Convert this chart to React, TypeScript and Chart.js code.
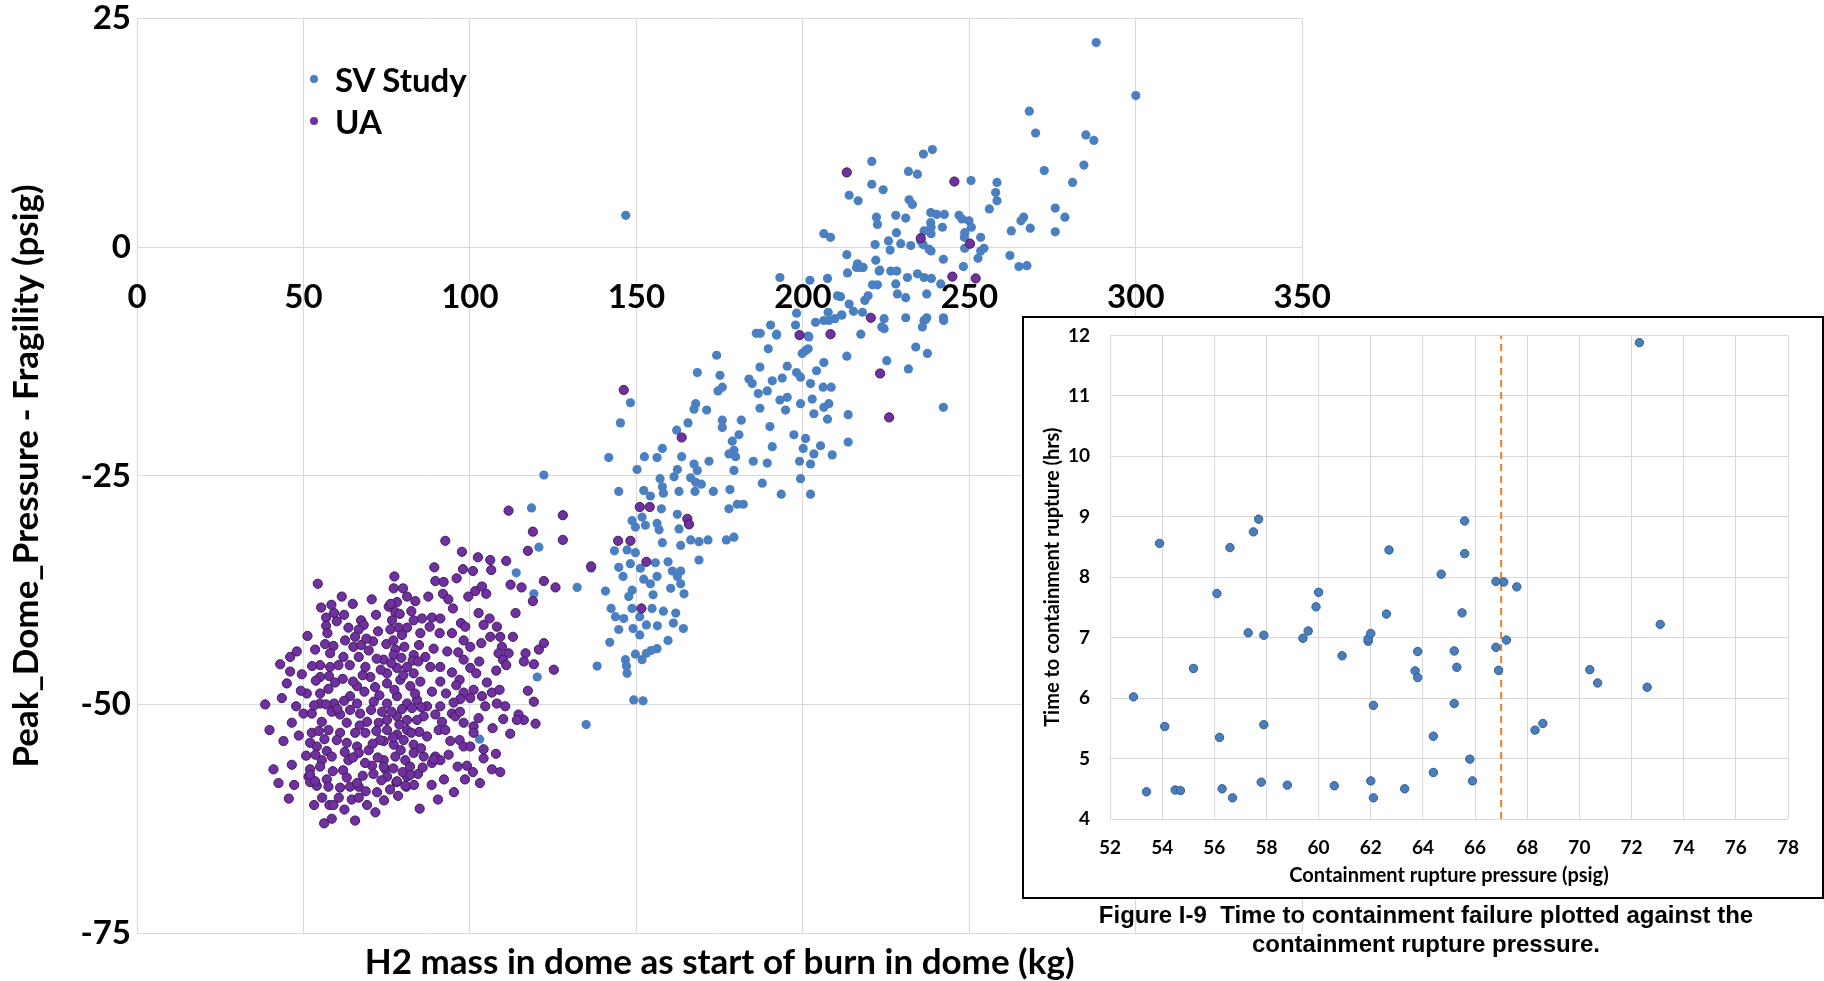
import React, { useEffect, useRef } from 'react';
import { Chart, registerables } from 'chart.js';

Chart.register(...registerables);

// ---- Main chart: H2 mass (kg) vs Peak dome pressure - fragility (psig) ----
const svStudy: [number, number][] = [
  [288.1, 22.4], [300.0, 16.6], [268.0, 14.9], [269.9, 12.5], [285.0, 12.3], [287.4, 11.7], [272.5, 8.4], [284.4, 9.0],
  [281.0, 7.1], [250.5, 7.3], [258.3, 7.1], [257.9, 6.0], [258.3, 5.1], [256.0, 4.2], [275.8, 4.3], [278.7, 3.3],
  [266.3, 3.3], [265.5, 2.9], [268.3, 2.1], [262.6, 1.8], [275.8, 1.7], [246.9, 3.5], [247.8, 3.1], [249.9, 2.9],
  [250.6, 2.2], [241.9, 2.2], [248.6, 1.6], [248.5, 1.1], [253.4, 1.1], [248.6, -0.1], [254.4, -0.1], [253.4, -0.4],
  [252.6, -1.2], [262.2, -0.9], [264.9, -2.1], [267.3, -2.0], [248.2, -2.1], [242.2, -1.3],
  [238.9, 10.7], [236.2, 10.2], [220.7, 9.4], [231.7, 8.3], [234.4, 8.0], [220.7, 6.9], [224.1, 6.3], [213.9, 5.7],
  [216.6, 5.1], [231.9, 5.2], [232.9, 4.7], [206.3, 1.5], [208.3, 1.1], [222.1, 3.3], [222.4, 2.5], [227.9, 3.5],
  [230.9, 3.2], [238.4, 3.8], [240.2, 3.6], [238.4, 2.7], [236.4, 1.8], [228.1, 1.6], [225.7, 0.7], [221.7, 0.3],
  [229.4, 0.4], [232.4, 0.2], [235.4, 0.7], [237.9, -0.2], [213.2, -0.8], [216.4, -1.8], [217.4, -2.2], [213.4, -2.8],
  [221.9, -1.4], [222.9, -2.6], [226.4, -2.6], [228.2, -2.6], [231.4, -3.3], [234.4, -2.9], [236.4, -3.3], [238.6, -3.4],
  [241.4, -4.0], [193.1, -3.3], [202.1, -3.6], [207.4, -3.4], [220.9, -4.1], [222.4, -4.1], [227.9, -4.0], [219.6, -5.3],
  [228.4, -5.1], [230.9, -5.5], [237.2, -5.1], [210.4, -5.3], [213.9, -6.2], [215.2, -7.0], [217.9, -7.1], [224.4, -7.8],
  [224.4, -8.9], [230.9, -7.7], [236.4, -8.0], [237.2, -7.7], [242.2, -7.7], [235.9, -8.7], [207.6, -7.1], [211.7, -7.4],
  [203.8, -8.2], [198.1, -7.2], [197.8, -8.5], [190.3, -8.5], [207.8, -8.0], [201.8, -9.8], [192.1, -9.6], [217.4, -9.5],
  [213.2, -11.9], [233.9, -10.9], [237.4, -11.6], [225.2, -12.4], [231.7, -13.3], [200.8, -11.3], [199.8, -11.6], [206.3, -12.6],
  [204.1, -13.5], [198.1, -13.7], [199.3, -14.2], [195.3, -13.0], [193.8, -14.3], [190.8, -14.6], [202.3, -14.9], [206.1, -15.3],
  [208.5, -15.3], [189.3, -15.7], [193.1, -16.7], [195.3, -16.4], [199.3, -17.1], [202.8, -16.6], [206.3, -17.5], [207.8, -17.1],
  [194.8, -17.8], [203.3, -18.2], [213.6, -18.3], [242.2, -17.5], [207.4, -18.8], [190.1, -19.6], [197.3, -20.5], [200.8, -20.9],
  [213.6, -21.3], [190.8, -21.8], [205.3, -21.7], [200.1, -22.0], [203.3, -22.6], [208.8, -22.7], [189.3, -23.6], [199.0, -23.4],
  [202.3, -23.7], [199.3, -25.3], [187.8, -25.8], [193.5, -27.0], [202.3, -27.0],
  [226.2, -0.3], [216.1, -2.2], [218.1, -2.2], [223.1, -2.5], [218.6, -5.8], [211.3, -5.4], [209.6, -7.8], [211.6, -7.4],
  [206.3, -8.0], [223.7, -8.7], [236.9, -7.9], [242.3, -8.0], [186.0, -9.4], [187.2, -9.4], [192.1, -9.5], [201.6, -9.7],
  [189.6, -11.1], [201.6, -11.1], [238.5, 2.2], [238.5, 1.5], [236.1, 0.3], [238.5, -0.4], [242.5, 3.6], [174.1, -11.8],
  [146.8, 3.5],
  [168.3, -13.7], [175.1, -14.0], [174.5, -15.7], [175.8, -15.3], [183.8, -14.4], [184.8, -14.9], [187.1, -13.1], [186.6, -16.0],
  [148.2, -17.0], [145.2, -19.2], [141.7, -23.0], [167.8, -17.1], [171.1, -17.8], [167.3, -17.7], [175.8, -18.9], [175.8, -19.7],
  [181.5, -18.9], [187.1, -17.6], [165.5, -19.2], [162.1, -20.0], [180.8, -20.5], [178.8, -21.2], [179.3, -22.2], [177.8, -22.6],
  [179.8, -22.9], [171.8, -23.4], [185.1, -23.4], [179.3, -24.4], [157.8, -22.0], [156.2, -23.0], [152.4, -22.9], [163.6, -22.9],
  [150.2, -24.3], [167.3, -23.7], [168.3, -24.4], [162.3, -24.3], [161.3, -25.1], [166.3, -25.2], [167.8, -25.7], [169.5, -25.9],
  [157.1, -25.3], [157.8, -26.2], [158.1, -26.9], [162.8, -26.7], [167.6, -26.7], [173.1, -26.7], [178.1, -26.5], [144.7, -26.7],
  [152.2, -26.6], [154.2, -27.2], [157.5, -28.6], [162.3, -29.2], [162.8, -30.8], [166.3, -32.0], [168.8, -32.2], [171.5, -32.0],
  [177.0, -32.0], [179.3, -31.7], [177.8, -28.6], [180.3, -28.1], [182.1, -28.1], [148.7, -29.9], [151.7, -29.5], [152.7, -30.4],
  [156.2, -30.2], [149.7, -30.6], [156.8, -30.9], [143.4, -33.2], [147.2, -33.1], [149.7, -33.4], [157.8, -32.3], [163.3, -32.6],
  [144.7, -35.0], [148.2, -34.6], [151.2, -35.1], [155.7, -34.5], [159.5, -34.4], [160.8, -35.4], [163.3, -35.4], [146.0, -36.0],
  [152.2, -36.3], [156.2, -36.0], [154.2, -36.8], [162.3, -36.0], [163.3, -36.8], [168.8, -34.2], [160.3, -37.3], [164.3, -37.9],
  [140.7, -37.6], [148.7, -37.5], [147.7, -38.2], [155.0, -38.0], [148.7, -39.5], [142.4, -39.5], [143.7, -40.4], [146.2, -40.6],
  [151.0, -40.4], [154.7, -39.5], [158.1, -39.8], [161.8, -40.0], [161.1, -41.1], [156.3, -41.4], [153.0, -41.3], [144.7, -41.8],
  [149.0, -41.7], [151.0, -42.4], [164.1, -41.7], [159.5, -43.0], [142.0, -43.2], [149.7, -44.5], [153.0, -44.4], [156.2, -43.9],
  [154.4, -44.1], [151.7, -45.1], [146.7, -45.1], [138.2, -45.8], [147.0, -45.8], [147.2, -46.6], [149.2, -49.5], [152.0, -49.6],
  [118.5, -28.5], [120.7, -32.8], [113.9, -35.6], [119.2, -37.9], [132.2, -37.2], [136.4, -35.1], [120.2, -47.0], [134.9, -52.2],
  [102.9, -53.8], [122.2, -24.9],
];

const uaPoints: [number, number][] = [
  [245.5, 7.2], [250.2, 0.4], [244.9, -3.2], [251.9, -3.4],
  [213.2, 8.2], [235.4, 1.0], [220.4, -7.7], [199.0, -9.6], [208.3, -9.5], [223.2, -13.8], [225.9, -18.6],
  [146.2, -15.6], [163.6, -20.8], [151.0, -28.4], [154.0, -28.4], [165.3, -29.7], [165.8, -30.3], [144.5, -32.1],
  [148.2, -32.1], [153.0, -34.4], [136.4, -34.9], [151.5, -39.5],
  [111.6, -28.8], [127.9, -29.3], [118.9, -31.1], [127.9, -32.0], [117.4, -33.2], [122.2, -36.5], [125.7, -37.2],
  [112.2, -36.9], [115.5, -37.2], [118.9, -38.7], [113.7, -40.0],
  [92.6, -32.1], [97.6, -33.3], [102.4, -33.9], [106.1, -34.2], [110.9, -34.3], [89.3, -35.0], [97.9, -35.2], [100.9, -35.4],
  [106.4, -35.3], [89.6, -36.5], [92.1, -36.6], [91.9, -37.9], [101.6, -37.6], [103.6, -37.1], [104.9, -37.9], [94.9, -39.5],
  [102.6, -40.0], [105.9, -40.6], [104.1, -41.3], [108.1, -41.5], [88.6, -40.5], [91.1, -40.6], [97.3, -41.1], [98.6, -41.5],
  [87.9, -41.5], [90.9, -42.2], [94.6, -42.2], [98.1, -43.0], [100.1, -43.7], [103.4, -43.3], [106.1, -42.6], [109.1, -42.6],
  [112.9, -42.6], [109.6, -43.7], [111.6, -44.4], [108.6, -44.4], [109.9, -45.1], [110.9, -45.7], [107.9, -46.3], [120.7, -44.0],
  [122.2, -43.3], [116.7, -44.4], [116.2, -45.3], [119.2, -45.6], [125.2, -46.2], [89.1, -43.9], [86.6, -44.8], [88.1, -45.9],
  [91.1, -45.9], [94.6, -46.5], [98.1, -45.1], [100.1, -46.0], [101.9, -46.6], [96.9, -47.3], [95.9, -47.9], [91.1, -47.5],
  [88.6, -48.6], [98.1, -48.7], [101.1, -48.4], [105.1, -47.6], [106.6, -48.7], [108.9, -48.4], [103.6, -49.1], [100.1, -49.3],
  [97.1, -49.4], [95.1, -49.8], [91.1, -50.2], [87.1, -50.2], [104.6, -50.2], [108.1, -49.9], [110.6, -50.2], [117.4, -48.5],
  [119.2, -49.7], [114.6, -51.1], [116.2, -51.7], [114.1, -51.7], [119.7, -52.1], [110.0, -51.6], [112.1, -53.2], [86.1, -51.3],
  [89.6, -51.1], [91.6, -51.9], [94.6, -51.0], [95.6, -51.3], [98.1, -52.0], [101.1, -52.4], [101.1, -53.1], [87.1, -53.5],
  [90.6, -52.8], [92.6, -52.8], [94.1, -54.0], [96.9, -53.9], [98.1, -54.6], [100.1, -54.6], [104.1, -54.9], [86.1, -55.7],
  [89.6, -55.7], [91.1, -56.1], [88.6, -56.4], [104.1, -55.9], [96.3, -56.8], [99.1, -56.7], [100.9, -57.4], [106.6, -57.1],
  [109.1, -57.4],
  [54.3, -36.8], [77.3, -36.0], [77.1, -37.3], [79.9, -37.3], [78.1, -38.8], [81.1, -38.2], [83.6, -38.7], [75.6, -39.3],
  [77.6, -39.9], [55.3, -39.4], [56.8, -40.5], [59.2, -40.0], [60.0, -40.9], [56.8, -41.4], [63.5, -41.6], [67.3, -40.8],
  [68.1, -41.3], [66.6, -41.8], [76.6, -40.8], [78.6, -41.6], [81.1, -41.6], [83.1, -40.8], [85.6, -40.6], [76.1, -41.8],
  [79.6, -42.4], [85.1, -42.2], [53.5, -44.0], [56.5, -43.4], [59.0, -43.6], [62.5, -43.0], [65.0, -43.7], [67.3, -43.5],
  [69.6, -44.1], [58.0, -44.4], [62.0, -44.8], [66.6, -44.8], [74.9, -43.4], [77.6, -44.0], [80.3, -43.7], [83.1, -44.6],
  [74.1, -45.1], [77.1, -44.6], [46.0, -44.8], [46.0, -46.4], [49.5, -46.7], [45.0, -47.7], [55.0, -45.7], [58.0, -45.9],
  [60.5, -45.7], [55.0, -47.0], [68.6, -45.9], [70.1, -47.0], [66.1, -48.0], [75.1, -46.6], [78.1, -46.0], [81.1, -45.9],
  [83.1, -46.6], [75.1, -47.7], [79.1, -47.3], [82.1, -48.0], [85.1, -47.5], [55.0, -48.8], [57.5, -48.3], [64.0, -49.1],
  [66.1, -49.9], [55.0, -49.9], [59.2, -49.9], [71.1, -49.7], [75.1, -49.9], [78.1, -49.1], [81.1, -49.9], [84.1, -49.5],
  [38.5, -50.0], [50.0, -51.0], [52.5, -51.0], [46.5, -52.0], [39.8, -52.8], [55.5, -51.9], [58.5, -50.8], [61.0, -51.1],
  [64.0, -50.6], [67.0, -51.0], [69.1, -51.9], [63.0, -52.0], [57.5, -52.8], [61.0, -53.1], [65.5, -53.1], [68.6, -53.1],
  [72.6, -52.0], [75.1, -51.7], [78.1, -51.3], [81.1, -51.7], [84.1, -51.7], [75.1, -52.8], [78.1, -53.3], [81.1, -52.8],
  [52.5, -53.1], [52.0, -54.2], [54.0, -54.6], [60.0, -53.9], [63.0, -54.2], [66.1, -54.6], [69.6, -55.0], [74.1, -54.0],
  [77.1, -54.4], [80.1, -53.9], [83.1, -54.4], [57.0, -55.1], [55.5, -56.1], [58.5, -55.7], [63.5, -56.1], [66.6, -55.3],
  [77.6, -55.7], [80.6, -56.1], [83.1, -55.3], [74.1, -56.1], [41.0, -57.1], [46.5, -56.6], [52.0, -57.1], [55.0, -56.8],
  [70.6, -56.7], [74.6, -57.1], [81.1, -57.9], [51.5, -57.9], [57.0, -58.2], [57.5, -59.0], [61.0, -59.1], [64.0, -59.0],
  [66.6, -59.0], [66.1, -58.6], [52.0, -58.5], [75.1, -57.9], [77.9, -58.5], [80.9, -59.0], [57.8, -61.0], [59.0, -61.0],
  [64.5, -60.4], [66.6, -60.2], [65.5, -62.7], [84.9, -61.4],
  [70.5, -38.5], [71.8, -40.2], [72.4, -42.0], [70.9, -43.1], [72.0, -45.0], [73.2, -46.2], [71.5, -48.1], [72.8, -49.0],
  [70.3, -50.6], [73.6, -50.8], [71.9, -52.9], [73.0, -53.9], [70.8, -54.3], [72.3, -55.8], [71.0, -57.6], [73.4, -58.3],
  [72.1, -59.6], [74.2, -60.5], [71.6, -61.8], [76.2, -39.0], [78.9, -40.1], [77.0, -43.0], [79.4, -44.9], [76.4, -45.5],
  [80.0, -46.8], [77.3, -48.4], [79.6, -50.5], [76.5, -50.8], [78.8, -52.2], [76.9, -53.6], [79.2, -55.0], [77.0, -57.0],
  [79.8, -57.4], [78.4, -60.0], [76.0, -59.3], [82.4, -39.8], [84.7, -43.5], [82.8, -45.2], [84.5, -45.3], [83.5, -48.8],
  [85.4, -50.3], [82.6, -50.4], [84.8, -53.0], [82.4, -53.1], [85.3, -54.8], [82.0, -56.8], [84.4, -57.6], [83.2, -58.8],
  [85.8, -56.9], [61.5, -38.2], [64.8, -39.0], [62.2, -40.2], [65.5, -42.6], [68.9, -42.8], [63.9, -45.7], [67.8, -46.8],
  [61.8, -47.2], [64.9, -47.5], [68.3, -48.6], [62.2, -49.6], [60.2, -50.5], [66.9, -52.3], [62.4, -55.2], [64.9, -55.8],
  [68.5, -56.4], [61.9, -57.2], [67.8, -57.8], [63.0, -58.0], [60.6, -60.2], [68.7, -59.5], [62.3, -61.5], [69.1, -61.0],
  [51.2, -42.5], [52.6, -45.8], [53.7, -47.4], [51.0, -48.8], [53.2, -50.1], [56.8, -50.0], [54.6, -52.9], [56.3, -53.8],
  [50.8, -55.6], [53.6, -55.5], [58.8, -57.3], [54.0, -58.9], [55.6, -60.2], [53.2, -61.0], [58.5, -62.5], [56.2, -63.0],
  [59.5, -47.6], [57.7, -46.9], [57.2, -42.2], [58.4, -39.1], [87.5, -38.2], [93.5, -38.5], [96.0, -36.2], [99.5, -38.2],
  [93.2, -44.2], [96.5, -44.3], [92.8, -48.8], [102.8, -45.3], [97.0, -50.8], [93.6, -55.5], [98.5, -58.2], [102.6, -51.5],
  [106.8, -52.6], [107.8, -55.4], [88.5, -58.8], [92.2, -58.2], [95.2, -59.6], [90.4, -60.4], [103.0, -58.6], [43.5, -49.3],
  [44.0, -54.0], [47.8, -50.2], [48.6, -53.4], [47.2, -58.8], [45.6, -60.3], [49.2, -48.5], [48.0, -44.2], [43.0, -45.6],
  [42.5, -58.6], [52.0, -57.7], [53.5, -58.4], [74.1, -56.8], [78.1, -58.4], [80.6, -58.9], [82.1, -57.7], [89.1, -56.0],
];

const mainXLimits = [0, 350, 50];
const mainYLimits = [-75, 25, 25];

// ---- Inset chart: containment rupture pressure vs time to rupture ----
const insetPressure = [
  52.9, 53.4, 53.9, 54.1, 54.5, 54.7, 55.2, 56.1, 56.2, 56.3, 56.6, 56.7, 57.3, 57.5, 57.7, 57.8,
  57.9, 57.9, 58.8, 59.4, 59.6, 59.9, 60.0, 60.6, 60.9, 61.9, 61.9, 62.0, 62.0, 62.1, 62.1, 62.6,
  62.7, 63.3, 63.7, 63.8, 63.8, 64.4, 64.4, 64.7, 65.2, 65.2, 65.3, 65.5, 65.6, 65.6, 65.8, 65.9,
  66.8, 66.8, 66.9, 67.1, 67.2, 67.6, 68.3, 68.6, 70.4, 70.7, 72.3, 72.6, 73.1,
];
const insetTime = [
  6.02, 4.45, 8.56, 5.53, 4.48, 4.47, 6.49, 7.73, 5.35, 4.50, 8.49, 4.35, 7.08, 8.75, 8.96, 4.61,
  7.04, 5.56, 4.56, 6.99, 7.11, 7.51, 7.75, 4.55, 6.70, 6.94, 6.98, 4.63, 7.07, 5.88, 4.35, 7.39,
  8.45, 4.50, 6.45, 6.77, 6.34, 5.37, 4.77, 8.05, 6.78, 5.91, 6.51, 7.41, 8.39, 8.93, 4.99, 4.63,
  7.93, 6.84, 6.46, 7.92, 6.96, 7.84, 5.47, 5.58, 6.47, 6.25, 11.88, 6.18, 7.22,
];
const insetThreshold = 67;
const insetXLimits = [52, 78, 2];
const insetYLimits = [4, 12, 1];

const FONT = 'Lato, "Open Sans", sans-serif';

export default function App() {
  const mainRef = useRef<HTMLCanvasElement>(null);
  const insetRef = useRef<HTMLCanvasElement>(null);

  useEffect(() => {
    const grid = { color: '#d9d9d9', lineWidth: 1, drawTicks: false };
    const main = new Chart(mainRef.current as HTMLCanvasElement, {
      type: 'scatter',
      data: {
        datasets: [
          {
            label: 'SV Study',
            data: svStudy.map(([x, y]) => ({ x, y })),
            backgroundColor: '#4a7fc1',
            borderWidth: 0,
            pointRadius: 4.6,
            order: 1,
          },
          {
            label: 'UA',
            data: uaPoints.map(([x, y]) => ({ x, y })),
            backgroundColor: '#7030a0',
            borderColor: '#3f1a5c',
            borderWidth: 1,
            pointRadius: 4.6,
            order: 0,
          },
        ],
      },
      options: {
        responsive: false,
        animation: false,
        devicePixelRatio: 1,
        layout: { padding: { left: 0, right: 39, top: 19, bottom: 0 } },
        plugins: {
          legend: { display: false },
          tooltip: { enabled: false },
          title: {
            display: true,
            text: 'H2 mass in dome as start of burn in dome (kg)',
            position: 'bottom',
            fullSize: false,
            color: '#000',
            font: { family: FONT, size: 35, weight: 'bold' },
            padding: { top: 9, bottom: 0 },
          },
        },
        scales: {
          x: {
            type: 'linear',
            axis: 'x',
            position: { y: 0 },
            min: mainXLimits[0],
            max: mainXLimits[1],
            ticks: {
              stepSize: mainXLimits[2],
              color: '#000',
              font: { family: FONT, size: 33, weight: 'bold' },
              padding: 30,
              maxRotation: 0,
            },
            grid,
            border: { display: false },
          },
          y: {
            type: 'linear',
            position: 'left',
            min: mainYLimits[0],
            max: mainYLimits[1],
            ticks: {
              stepSize: mainYLimits[2],
              color: '#000',
              font: { family: FONT, size: 33, weight: 'bold' },
              padding: 6,
            },
            grid,
            border: { display: false },
            title: {
              display: true,
              text: 'Peak_Dome_Pressure - Fragility (psig)',
              color: '#000',
              font: { family: FONT, size: 35, weight: 'bold' },
              padding: { top: 6, bottom: 0 },
            },
            afterFit: (s: any) => {
              s.width = 137;
            },
          },
        },
      } as any,
    });

    const inset = new Chart(insetRef.current as HTMLCanvasElement, {
      type: 'scatter',
      data: {
        datasets: [
          {
            label: 'Time to containment rupture',
            data: insetPressure.map((x, i) => ({ x, y: insetTime[i] })),
            backgroundColor: '#4a7ebb',
            borderColor: '#2f5d92',
            borderWidth: 1,
            pointRadius: 4.2,
            order: 0,
          },
          {
            label: 'Threshold',
            data: [
              { x: insetThreshold, y: insetYLimits[0] },
              { x: insetThreshold, y: insetYLimits[1] },
            ],
            showLine: true,
            borderColor: '#ed7d31',
            borderWidth: 2,
            borderDash: [7, 5],
            pointRadius: 0,
            order: 1,
          },
        ],
      },
      options: {
        responsive: false,
        animation: false,
        devicePixelRatio: 1,
        layout: { padding: { left: 0, right: 34, top: 17, bottom: 0 } },
        plugins: { legend: { display: false }, tooltip: { enabled: false } },
        scales: {
          x: {
            type: 'linear',
            min: insetXLimits[0],
            max: insetXLimits[1],
            ticks: {
              stepSize: insetXLimits[2],
              color: '#000',
              font: { family: FONT, size: 19, weight: 'bold' },
              padding: 17,
              maxRotation: 0,
            },
            grid,
            border: { display: false },
            title: {
              display: true,
              text: 'Containment rupture pressure (psig)',
              color: '#000',
              font: { family: FONT, size: 20, weight: 'bold' },
              padding: { top: 0, bottom: 9 },
            },
            afterFit: (s: any) => {
              s.height = 78;
            },
          },
          y: {
            type: 'linear',
            min: insetYLimits[0],
            max: insetYLimits[1],
            ticks: {
              stepSize: insetYLimits[2],
              color: '#000',
              font: { family: FONT, size: 19, weight: 'bold' },
              padding: 20,
            },
            grid,
            border: { display: false },
            title: {
              display: true,
              text: 'Time to containment rupture (hrs)',
              color: '#000',
              font: { family: FONT, size: 20, weight: 'bold' },
              padding: { top: 17, bottom: 0 },
            },
            afterFit: (s: any) => {
              s.width = 86;
            },
          },
        },
      } as any,
    });

    return () => {
      main.destroy();
      inset.destroy();
    };
  }, []);

  const legendText: React.CSSProperties = {
    position: 'absolute',
    left: 335,
    height: 40,
    lineHeight: '40px',
    fontFamily: FONT,
    fontWeight: 'bold',
    fontSize: 33,
    color: '#000',
    whiteSpace: 'nowrap',
  };
  const dot = (color: string, top: number): React.CSSProperties => ({
    position: 'absolute',
    left: 310,
    top,
    width: 8,
    height: 8,
    borderRadius: '50%',
    background: color,
  });

  return (
    <div style={{ position: 'absolute', left: 0, top: 0, width: 1824, height: 981, overflow: 'hidden', background: '#fff' }}>
      <canvas ref={mainRef} width={1361} height={991} style={{ position: 'absolute', left: 0, top: -7, width: 1361, height: 991 }} />
      <div style={dot('#4a7fc1', 75)} />
      <div style={{ ...legendText, top: 59 }}>SV Study</div>
      <div style={dot('#7030a0', 117)} />
      <div style={{ ...legendText, top: 101 }}>UA</div>
      <div
        style={{
          position: 'absolute',
          left: 1022,
          top: 316,
          width: 802,
          height: 583,
          boxSizing: 'border-box',
          border: '2px solid #000',
          background: '#fff',
        }}
      >
        <canvas ref={insetRef} width={798} height={593} style={{ position: 'absolute', left: 0, top: -14, width: 798, height: 593 }} />
      </div>
      <div
        style={{
          position: 'absolute',
          left: 1026,
          top: 900,
          width: 800,
          textAlign: 'center',
          fontFamily: '"Liberation Sans", Arial, sans-serif',
          fontWeight: 'bold',
          fontSize: 24,
          lineHeight: '29px',
          color: '#000',
        }}
      >
        Figure I-9&nbsp; Time to containment failure plotted against the
        <br />
        containment rupture pressure.
      </div>
    </div>
  );
}
